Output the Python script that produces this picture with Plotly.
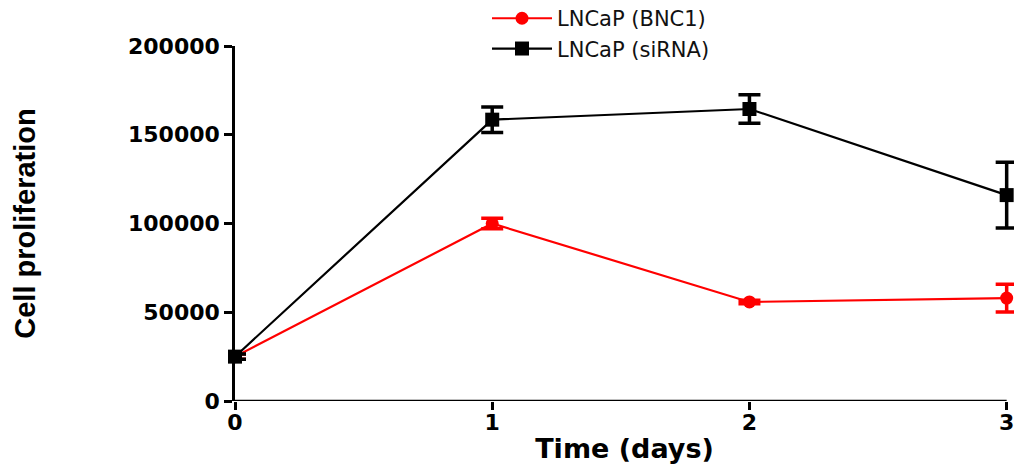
import plotly.graph_objects as go

days = [0, 1, 2, 3]
bnc1_mean = [25000, 100000, 55800, 58000]
bnc1_err = [1500, 3000, 1000, 7800]
sirna_mean = [25000, 158500, 164500, 116000]
sirna_err = [1500, 7200, 8000, 18500]
y_ticks = [0, 50000, 100000, 150000, 200000]
x_ticks = [0, 1, 2, 3]

fig = go.Figure()
fig.add_trace(go.Scatter(
    x=days, y=bnc1_mean, name="LNCaP (BNC1)", mode="lines+markers",
    line=dict(color="#ff0000", width=2.2),
    marker=dict(symbol="circle", size=13, color="#ff0000"),
    error_y=dict(type="data", array=bnc1_err, color="#ff0000", thickness=3.5, width=11),
    cliponaxis=False,
))
fig.add_trace(go.Scatter(
    x=days, y=sirna_mean, name="LNCaP (siRNA)", mode="lines+markers",
    line=dict(color="#000000", width=2.2),
    marker=dict(symbol="square", size=14, color="#000000"),
    error_y=dict(type="data", array=sirna_err, color="#000000", thickness=3.5, width=11),
    cliponaxis=False,
))

# x-axis line drawn only over the data span (the range is padded so the last error bar is not clipped)
fig.add_shape(type="line", xref="x", yref="y", x0=days[0], x1=days[-1], y0=0, y1=0,
              line=dict(color="black", width=2.5))

tickfont = dict(family="DejaVu Sans", size=22, color="#000000")
fig.update_layout(
    width=1016, height=464,
    margin=dict(l=235, r=2, t=46, b=63, autoexpand=False),
    paper_bgcolor="white", plot_bgcolor="white",
    font=dict(family="DejaVu Sans", color="#000000"),
    legend=dict(x=(487 - 235) / 779, y=1.135, xanchor="left", yanchor="top",
                font=dict(size=21, color="#111111", family="DejaVu Sans"),
                itemwidth=60,
                bgcolor="rgba(0,0,0,0)", tracegroupgap=0),
    xaxis=dict(range=[0, 3.0285], tickvals=x_ticks, ticktext=["<b>%d</b>" % v for v in x_ticks],
               automargin=False, ticklabelstandoff=-6,
               showgrid=False, zeroline=False, showline=False,
               ticks="outside", ticklen=8, tickwidth=2.5, tickcolor="black", tickfont=tickfont,
               title=dict(text="<b>Time (days)</b>", font=dict(size=27, family="DejaVu Sans"), standoff=4)),
    yaxis=dict(range=[0, 200000], tickvals=y_ticks, ticktext=["<b>%d</b>" % v for v in y_ticks],
               automargin=False,
               showgrid=False, zeroline=False, showline=True, linecolor="black", linewidth=2.5,
               ticks="outside", ticklen=8, tickwidth=2.5, tickcolor="black", tickfont=tickfont,
               title=dict(text="<b>Cell proliferation</b>", font=dict(size=29, family="Liberation Sans"), standoff=84)),
)
fig.write_html("out.html", config={"displayModeBar": False},
               post_script="document.body.style.margin='0';")
